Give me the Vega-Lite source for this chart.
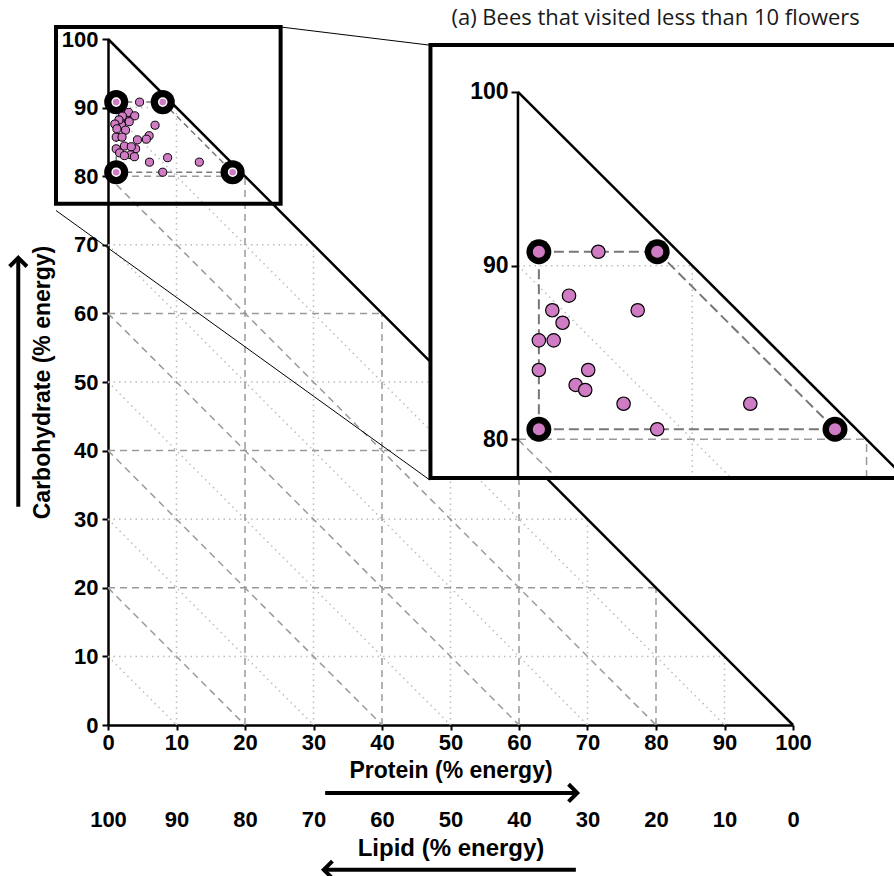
{
  "$schema": "https://vega.github.io/schema/vega-lite/v6.json",
  "width": 685,
  "height": 686,
  "autosize": {"type": "none"},
  "padding": {"left": 108, "top": 39, "right": 101, "bottom": 151},
  "background": "white",
  "config": {
    "view": {"stroke": null},
    "axis": {
      "grid": false,
      "labelFont": "Liberation Sans",
      "titleFont": "Liberation Sans",
      "labelColor": "black",
      "titleColor": "black",
      "labelFontWeight": "bold",
      "titleFontWeight": "bold",
      "labelFontSize": 22,
      "titleFontSize": 23,
      "domainColor": "black",
      "tickColor": "black",
      "labelFlush": false,
      "labelOverlap": false
    }
  },
  "datasets": {
    "gridDashed": [
      {"protein": 0, "carb": 20, "protein2": 80, "carb2": 20},
      {"protein": 0, "carb": 40, "protein2": 60, "carb2": 40},
      {"protein": 0, "carb": 60, "protein2": 40, "carb2": 60},
      {"protein": 0, "carb": 80, "protein2": 20, "carb2": 80},
      {"protein": 20, "carb": 0, "protein2": 20, "carb2": 80},
      {"protein": 40, "carb": 0, "protein2": 40, "carb2": 60},
      {"protein": 60, "carb": 0, "protein2": 60, "carb2": 40},
      {"protein": 80, "carb": 0, "protein2": 80, "carb2": 20},
      {"protein": 0, "carb": 20, "protein2": 20, "carb2": 0},
      {"protein": 0, "carb": 40, "protein2": 40, "carb2": 0},
      {"protein": 0, "carb": 60, "protein2": 60, "carb2": 0},
      {"protein": 0, "carb": 80, "protein2": 80, "carb2": 0}
    ],
    "gridDotted": [
      {"protein": 0, "carb": 10, "protein2": 90, "carb2": 10},
      {"protein": 0, "carb": 30, "protein2": 70, "carb2": 30},
      {"protein": 0, "carb": 50, "protein2": 50, "carb2": 50},
      {"protein": 0, "carb": 70, "protein2": 30, "carb2": 70},
      {"protein": 0, "carb": 90, "protein2": 10, "carb2": 90},
      {"protein": 10, "carb": 0, "protein2": 10, "carb2": 90},
      {"protein": 30, "carb": 0, "protein2": 30, "carb2": 70},
      {"protein": 50, "carb": 0, "protein2": 50, "carb2": 50},
      {"protein": 70, "carb": 0, "protein2": 70, "carb2": 30},
      {"protein": 90, "carb": 0, "protein2": 90, "carb2": 10},
      {"protein": 0, "carb": 10, "protein2": 10, "carb2": 0},
      {"protein": 0, "carb": 30, "protein2": 30, "carb2": 0},
      {"protein": 0, "carb": 50, "protein2": 50, "carb2": 0},
      {"protein": 0, "carb": 70, "protein2": 70, "carb2": 0},
      {"protein": 0, "carb": 90, "protein2": 90, "carb2": 0}
    ],
    "hypotenuse": [
      {"protein": 0, "carb": 100, "protein2": 100, "carb2": 0}
    ],
    "bounds": [
      {"protein": 1.2, "carb": 90.8, "protein2": 7.99, "carb2": 90.8},
      {"protein": 1.2, "carb": 80.58, "protein2": 1.2, "carb2": 90.8},
      {"protein": 1.2, "carb": 80.58, "protein2": 18.19, "carb2": 80.58},
      {"protein": 7.99, "carb": 90.8, "protein2": 18.19, "carb2": 80.58}
    ],
    "diets": [
      {"protein": 1.2, "carb": 90.8},
      {"protein": 7.99, "carb": 90.8},
      {"protein": 1.2, "carb": 80.58},
      {"protein": 18.19, "carb": 80.58}
    ],
    "bees": [
      {"protein": 4.61, "carb": 90.8, "under10": true},
      {"protein": 2.93, "carb": 88.27, "under10": true},
      {"protein": 1.97, "carb": 87.43, "under10": true},
      {"protein": 2.56, "carb": 86.71, "under10": true},
      {"protein": 6.87, "carb": 87.43, "under10": true},
      {"protein": 1.2, "carb": 85.7, "under10": true},
      {"protein": 2.05, "carb": 85.7, "under10": true},
      {"protein": 1.2, "carb": 83.99, "under10": true},
      {"protein": 4.03, "carb": 83.99, "under10": true},
      {"protein": 3.31, "carb": 83.13, "under10": true},
      {"protein": 3.86, "carb": 82.84, "under10": true},
      {"protein": 6.06, "carb": 82.05, "under10": true},
      {"protein": 13.33, "carb": 82.05, "under10": true},
      {"protein": 7.99, "carb": 80.58, "under10": true},
      {"protein": 3.0, "carb": 89.3, "under10": false},
      {"protein": 2.1, "carb": 88.75, "under10": false},
      {"protein": 3.9, "carb": 88.8, "under10": false},
      {"protein": 1.6, "carb": 88.2, "under10": false},
      {"protein": 3.1, "carb": 87.95, "under10": false},
      {"protein": 1.0, "carb": 87.6, "under10": false},
      {"protein": 1.3, "carb": 86.9, "under10": false},
      {"protein": 6.0, "carb": 85.9, "under10": false},
      {"protein": 5.6, "carb": 85.4, "under10": false},
      {"protein": 4.3, "carb": 85.3, "under10": false},
      {"protein": 2.4, "carb": 84.4, "under10": false},
      {"protein": 3.4, "carb": 84.3, "under10": false},
      {"protein": 1.7, "carb": 83.4, "under10": false},
      {"protein": 2.4, "carb": 83.0, "under10": false},
      {"protein": 8.7, "carb": 82.7, "under10": false}
    ],
    "zoomBox": [
      {"protein": -7.59, "protein2": 25.2, "carb": 76.0, "carb2": 101.75}
    ],
    "zoomLinks": [
      {"protein": 25.2, "carb": 101.75, "protein2": 47.0, "carb2": 99.1},
      {"protein": -7.59, "carb": 75.0, "protein2": 47.0, "carb2": 35.7}
    ],
    "proteinArrow": [
      {"protein": 31.7, "protein2": 68.5, "carb": -9.9}
    ],
    "carbArrow": [
      {"protein": -13.1, "carb": 31.8, "carb2": 68.1}
    ],
    "lipidArrow": [
      {"lipid": 31.7, "lipid2": 68.5, "carb": -21.1}
    ],
    "insetFrame": [
      {"protein": -5.02, "protein2": 23, "carb": 77.77, "carb2": 102.71}
    ],
    "insetGridDashed": [
      {"protein": 0, "carb": 80, "protein2": 20, "carb2": 80},
      {"protein": 20, "carb": 77.77, "protein2": 20, "carb2": 80},
      {"protein": 0, "carb": 80, "protein2": 2.23, "carb2": 77.77}
    ],
    "insetGridDotted": [
      {"protein": 0, "carb": 90, "protein2": 10, "carb2": 90},
      {"protein": 10, "carb": 77.77, "protein2": 10, "carb2": 90},
      {"protein": 0, "carb": 90, "protein2": 12.23, "carb2": 77.77}
    ],
    "insetTriangle": [
      {"protein": 0, "carb": 77.77, "protein2": 0, "carb2": 100},
      {"protein": 0, "carb": 100, "protein2": 22.23, "carb2": 77.77}
    ],
    "insetTitle": [
      {"protein": 7.9, "carb": 104.26, "label": "(a) Bees that visited less than 10 flowers"}
    ]
  },
  "layer": [
    {
      "layer": [
        {
          "encoding": {
            "x": {
              "field": "protein", "type": "quantitative",
              "scale": {"domain": [0, 100], "nice": false, "zero": false},
              "axis": {
                "orient": "bottom",
                "title": "Protein (% energy)",
                "values": [0, 10, 20, 30, 40, 50, 60, 70, 80, 90, 100],
                "domainWidth": 2.5, "tickWidth": 2, "tickSize": 5,
                "labelPadding": 2.5, "titlePadding": 6
              }
            },
            "y": {
              "field": "carb", "type": "quantitative",
              "scale": {"domain": [0, 100], "nice": false, "zero": false},
              "axis": {
                "orient": "left",
                "title": "Carbohydrate (% energy)",
                "values": [0, 10, 20, 30, 40, 50, 60, 70, 80, 90, 100],
                "domainWidth": 2.5, "tickWidth": 2, "tickSize": 6,
                "labelPadding": 4, "titlePadding": 7
              }
            }
          },
          "layer": [
            {"data": {"name": "gridDotted"}, "mark": {"type": "rule", "color": "#bdbdbd", "strokeWidth": 1.5, "strokeDash": [1.5, 4]}, "encoding": {"x2": {"field": "protein2"}, "y2": {"field": "carb2"}}},
            {"data": {"name": "gridDashed"}, "mark": {"type": "rule", "color": "#9a9a9a", "strokeWidth": 1.5, "strokeDash": [7, 5]}, "encoding": {"x2": {"field": "protein2"}, "y2": {"field": "carb2"}}},
            {"data": {"name": "bounds"}, "mark": {"type": "rule", "color": "#7a7a7a", "strokeWidth": 1.5, "strokeDash": [6, 4]}, "encoding": {"x2": {"field": "protein2"}, "y2": {"field": "carb2"}}},
            {"data": {"name": "hypotenuse"}, "mark": {"type": "rule", "color": "black", "strokeWidth": 2.5}, "encoding": {"x2": {"field": "protein2"}, "y2": {"field": "carb2"}}},
            {"data": {"name": "diets"}, "mark": {"type": "point", "shape": "circle", "filled": true, "color": "black", "size": 580, "opacity": 1}},
            {"data": {"name": "bees"}, "mark": {"type": "point", "shape": "circle", "filled": true, "fill": "#d07cc4", "stroke": "black", "strokeWidth": 1, "size": 66, "opacity": 1}},
            {"data": {"name": "diets"}, "mark": {"type": "point", "shape": "circle", "filled": true, "fill": "#d07cc4", "stroke": "white", "strokeWidth": 1.5, "size": 66, "opacity": 1}},
            {"data": {"name": "zoomBox"}, "mark": {"type": "rect", "filled": false, "color": "black", "strokeWidth": 4}, "encoding": {"x2": {"field": "protein2"}, "y2": {"field": "carb2"}}},
            {"data": {"name": "zoomLinks"}, "mark": {"type": "rule", "color": "black", "strokeWidth": 1}, "encoding": {"x2": {"field": "protein2"}, "y2": {"field": "carb2"}}},
            {"data": {"name": "proteinArrow"}, "mark": {"type": "rule", "color": "black", "strokeWidth": 4}, "encoding": {"x2": {"field": "protein2"}}},
            {"data": {"name": "proteinArrow"}, "mark": {"type": "point", "shape": "M-1,-1L0,0L-1,1", "filled": false, "color": "black", "strokeWidth": 4, "size": 300, "opacity": 1, "strokeJoin": "miter"}, "encoding": {"x": {"field": "protein2", "type": "quantitative"}}},
            {"data": {"name": "carbArrow"}, "mark": {"type": "rule", "color": "black", "strokeWidth": 4}, "encoding": {"y2": {"field": "carb2"}}},
            {"data": {"name": "carbArrow"}, "mark": {"type": "point", "shape": "M-1,-1L0,0L-1,1", "angle": 270, "filled": false, "color": "black", "strokeWidth": 4, "size": 300, "opacity": 1, "strokeJoin": "miter"}, "encoding": {"y": {"field": "carb2", "type": "quantitative"}}}
          ]
        },
        {
          "data": {"name": "lipidArrow"},
          "encoding": {
            "x": {
              "field": "lipid", "type": "quantitative",
              "scale": {"domain": [0, 100], "reverse": true, "nice": false, "zero": false},
              "axis": {
                "orient": "bottom", "offset": 82,
                "title": "Lipid (% energy)",
                "values": [0, 10, 20, 30, 40, 50, 60, 70, 80, 90, 100],
                "domain": false, "ticks": false, "tickSize": 0,
                "labelPadding": 2.5, "titlePadding": 6, "titleFontSize": 24
              }
            },
            "y": {"field": "carb", "type": "quantitative", "scale": {"domain": [0, 100], "nice": false, "zero": false}}
          },
          "layer": [
            {"mark": {"type": "rule", "color": "black", "strokeWidth": 4}, "encoding": {"x2": {"field": "lipid2"}}},
            {"mark": {"type": "point", "shape": "M-1,-1L0,0L-1,1", "angle": 180, "filled": false, "color": "black", "strokeWidth": 4, "size": 300, "opacity": 1, "strokeJoin": "miter"}, "encoding": {"x": {"field": "lipid2", "type": "quantitative"}}}
          ]
        }
      ],
      "resolve": {"scale": {"x": "independent"}, "axis": {"x": "independent"}}
    },
    {
      "encoding": {
        "x": {"field": "protein", "type": "quantitative", "scale": {"domain": [-23.52, 15.78], "nice": false, "zero": false}, "axis": null},
        "y": {
          "field": "carb", "type": "quantitative",
          "scale": {"domain": [63.55, 103.05], "nice": false, "zero": false},
          "axis": {"orient": "left", "offset": -410, "values": [80, 90, 100], "domain": false, "tickSize": 7, "tickWidth": 2, "labelPadding": 3, "labelFontSize": 23, "title": null, "zindex": 1}
        }
      },
      "layer": [
        {"data": {"name": "insetFrame"}, "mark": {"type": "rect", "color": "white", "filled": true, "strokeWidth": 0}, "encoding": {"x2": {"field": "protein2"}, "y2": {"field": "carb2"}}},
        {"data": {"name": "insetGridDotted"}, "mark": {"type": "rule", "color": "#bdbdbd", "strokeWidth": 1.5, "strokeDash": [1.5, 4]}, "encoding": {"x2": {"field": "protein2"}, "y2": {"field": "carb2"}}},
        {"data": {"name": "insetGridDashed"}, "mark": {"type": "rule", "color": "#9a9a9a", "strokeWidth": 1.5, "strokeDash": [8, 5]}, "encoding": {"x2": {"field": "protein2"}, "y2": {"field": "carb2"}}},
        {"data": {"name": "bounds"}, "mark": {"type": "rule", "color": "#777777", "strokeWidth": 2, "strokeDash": [10, 5]}, "encoding": {"x2": {"field": "protein2"}, "y2": {"field": "carb2"}}},
        {"data": {"name": "insetTriangle"}, "mark": {"type": "rule", "color": "black", "strokeWidth": 2.5}, "encoding": {"x2": {"field": "protein2"}, "y2": {"field": "carb2"}}},
        {"data": {"name": "diets"}, "mark": {"type": "point", "shape": "circle", "filled": true, "color": "black", "size": 620, "opacity": 1}},
        {"data": {"name": "bees"}, "transform": [{"filter": "datum.under10"}], "mark": {"type": "point", "shape": "circle", "filled": true, "fill": "#d07cc4", "stroke": "black", "strokeWidth": 1.2, "size": 180, "opacity": 1}},
        {"data": {"name": "diets"}, "mark": {"type": "point", "shape": "circle", "filled": true, "fill": "#d07cc4", "stroke": "black", "strokeWidth": 1.2, "size": 180, "opacity": 1}},
        {"data": {"name": "insetFrame"}, "mark": {"type": "rect", "filled": false, "color": "black", "strokeWidth": 4}, "encoding": {"x2": {"field": "protein2"}, "y2": {"field": "carb2"}}},
        {"data": {"name": "insetTitle"}, "mark": {"type": "text", "font": "Open Sans", "fontSize": 22, "color": "#1a1a1a", "align": "center", "baseline": "middle"}, "encoding": {"text": {"field": "label"}}}
      ]
    }
  ],
  "resolve": {"scale": {"x": "independent", "y": "independent"}, "axis": {"x": "independent", "y": "independent"}}
}
